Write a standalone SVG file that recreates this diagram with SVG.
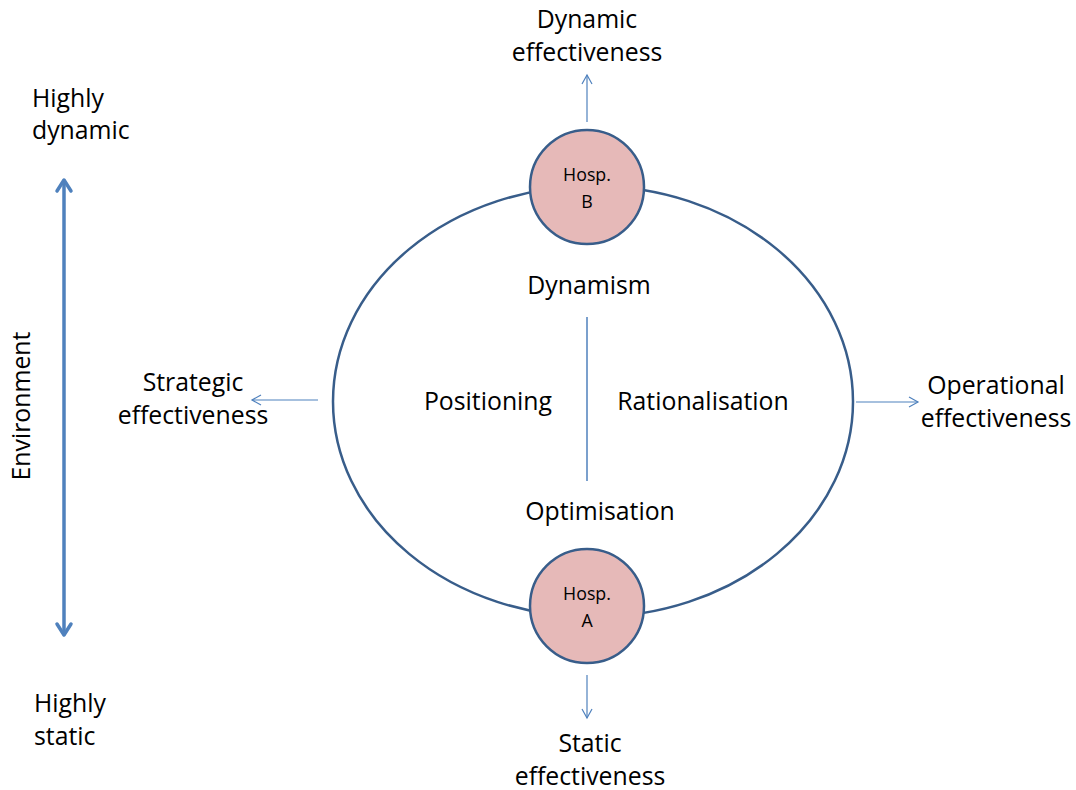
<svg xmlns="http://www.w3.org/2000/svg" width="1076" height="790" viewBox="0 0 1076 790">
<style>
text{font-family:"Open Sans","Noto Sans",sans-serif;fill:#000;text-anchor:middle}
.t{font-size:24.8px}
.s{font-size:17.8px}
.thin{stroke:#4f81bd;stroke-width:1.2;fill:none}
</style>
<defs>
<marker id="ah" markerWidth="12" markerHeight="12" refX="10" refY="6" orient="auto" markerUnits="userSpaceOnUse">
<path d="M1,1 L10,6 L1,11" fill="none" stroke="#4f81bd" stroke-width="1.2"/>
</marker>
</defs>
<rect width="1076" height="790" fill="#fff"/>
<g id="connectors">
<line class="thin" x1="587" y1="122" x2="587" y2="75" marker-end="url(#ah)"/>
<line class="thin" x1="587" y1="675" x2="587" y2="718" marker-end="url(#ah)"/>
<line class="thin" x1="318" y1="400" x2="252" y2="400" marker-end="url(#ah)"/>
<line class="thin" x1="856" y1="402" x2="918" y2="402" marker-end="url(#ah)"/>
<line x1="587" y1="317" x2="587" y2="481" stroke="#4f81bd" stroke-width="1.5"/>
<g id="env-arrow" stroke="#4f81bd" stroke-width="3.5" fill="none" stroke-linecap="round" stroke-linejoin="round">
<line x1="64" y1="181" x2="64" y2="634"/>
<path d="M57,191 L64,180 L71,191"/>
<path d="M57,624 L64,635 L71,624"/>
</g>
</g>
<g id="ellipse">
<ellipse cx="593" cy="401.5" rx="260" ry="215.5" fill="none" stroke="#385d8a" stroke-width="2.5"/>
</g>
<g id="hospB">
<circle cx="587" cy="187" r="57" fill="#e6b9b8" stroke="#385d8a" stroke-width="2.5"/>
<text class="s" x="587" y="181">Hosp.</text>
<text class="s" x="587" y="208">B</text>
</g>
<g id="hospA">
<circle cx="587" cy="606" r="57" fill="#e6b9b8" stroke="#385d8a" stroke-width="2.5"/>
<text class="s" x="587" y="600">Hosp.</text>
<text class="s" x="587" y="627">A</text>
</g>
<g id="labels">
<text class="t" x="587" y="28">Dynamic</text>
<text class="t" x="587" y="61">effectiveness</text>
<text class="t" x="32" y="107" style="text-anchor:start">Highly</text>
<text class="t" x="32" y="139" style="text-anchor:start">dynamic</text>
<text class="t" x="34" y="712" style="text-anchor:start">Highly</text>
<text class="t" x="34" y="745" style="text-anchor:start">static</text>
<text class="t" x="590" y="752">Static</text>
<text class="t" x="590" y="785">effectiveness</text>
<text class="t" x="193" y="391">Strategic</text>
<text class="t" x="193" y="424">effectiveness</text>
<text class="t" x="996" y="394">Operational</text>
<text class="t" x="996" y="427">effectiveness</text>
<text class="t" x="589" y="294">Dynamism</text>
<text class="t" x="488" y="410">Positioning</text>
<text class="t" x="703" y="410">Rationalisation</text>
<text class="t" x="600" y="520">Optimisation</text>
<text class="t" transform="translate(30,406) rotate(-90)">Environment</text>
</g>
</svg>
